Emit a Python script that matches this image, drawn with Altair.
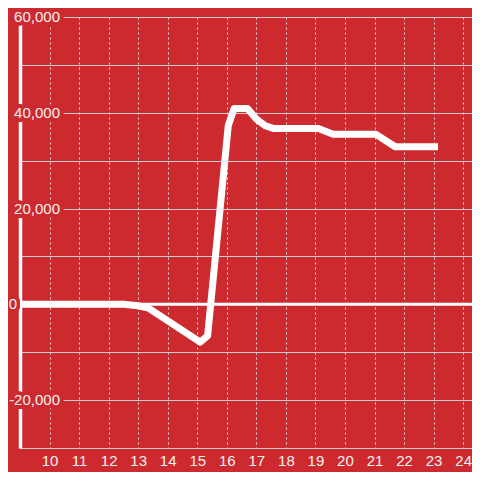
import altair as alt
import pandas as pd

BG = "#cd2a2f"

hours = [9, 12.5, 13.0, 13.35, 15.1, 15.35, 16.05, 16.25, 16.7, 17.0, 17.3, 17.6,
         19.1, 19.6, 21.05, 21.7, 23.15]
values = [0, 0, -300, -800, -7900, -6600, 37300, 40900, 40900, 38700, 37300, 36700,
          36700, 35500, 35500, 32900, 32900]

y_label_values = [60000, 40000, 20000, 0, -20000]
y_label_texts = ["60,000", "40,000", "20,000", "0", "-20,000"]
y_grid_values = [-30000, -20000, -10000, 0, 10000, 20000, 30000, 40000, 50000, 60000]
x_tick_values = list(range(10, 25))

df = pd.DataFrame({"hour": hours, "value": values})
labels_df = pd.DataFrame({"v": y_label_values, "t": y_label_texts})

xscale = alt.Scale(domain=[9, 24.3], nice=False, zero=False)
yscale = alt.Scale(domain=[-30000, 60000], nice=False, zero=False)

base_x = alt.X(
    "hour:Q", scale=xscale, title=None,
    axis=alt.Axis(values=x_tick_values, grid=True, gridDash=[2, 3], gridColor="#dcdcdc",
                  gridWidth=1, ticks=False, domainColor="#cccccc", domainWidth=1,
                  labelColor="#f2f2f2", labelFontSize=15, labelFont="Liberation Sans",
                  labelPadding=5, labelFlush=False, zindex=0),
)
base_y = alt.Y(
    "value:Q", scale=yscale, title=None,
    axis=alt.Axis(values=y_grid_values, grid=True, gridColor="#cccccc", gridWidth=1,
                  labels=False, ticks=False, domainColor="#ffffff", domainWidth=3.5,
                  zindex=0),
)

line = alt.Chart(df).mark_line(color="white", strokeWidth=7, strokeJoin="round",
                               strokeCap="butt").encode(x=base_x, y=base_y)

zero = alt.Chart(pd.DataFrame({"z": [0]})).mark_rule(color="white", strokeWidth=3).encode(
    y=alt.Y("z:Q", scale=yscale)
)

text_style = dict(align="right", baseline="middle", fontSize=15, font="Liberation Sans")
is_zero = alt.datum.v == 0
not_zero = alt.datum.v != 0


def label_layer(filt, xpos, halo):
    if halo:
        mk = alt.Chart(labels_df).mark_text(fill=BG, stroke=BG, strokeWidth=8,
                                            strokeJoin="round", **text_style)
    else:
        mk = alt.Chart(labels_df).mark_text(color="#f2f2f2", **text_style)
    return mk.transform_filter(filt).encode(
        x=alt.value(xpos), y=alt.Y("v:Q", scale=yscale), text="t:N")


halo_main = label_layer(not_zero, 40, True)
halo_zero = label_layer(is_zero, -3, True)
text_main = label_layer(not_zero, 40, False)
text_zero = label_layer(is_zero, -3, False)

chart = alt.layer(halo_main, halo_zero, zero, line, text_main, text_zero).properties(
    width=452, height=431, background=BG,
    autosize=alt.AutoSizeParams(type="none"),
    padding={"left": 12, "top": 9, "right": 0, "bottom": 24},
).configure_view(stroke=None)

chart.save("out.html", embed_options={"renderer": "svg", "actions": False})
